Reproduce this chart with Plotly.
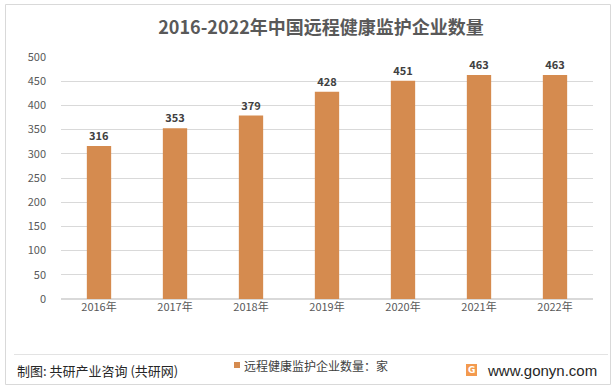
import plotly.graph_objects as go

years = ["2016年", "2017年", "2018年", "2019年", "2020年", "2021年", "2022年"]
values = [316, 353, 379, 428, 451, 463, 463]
y_ticks = [0, 50, 100, 150, 200, 250, 300, 350, 400, 450, 500]
series_name = "远程健康监护企业数量：家"

FONT = "Noto Sans CJK SC"
BAR_COLOR = "#D58B4F"
W, H = 615, 389
L, R, T, B = 61, 22, 57, 90
PW, PH = W - L - R, H - T - B

def px(x):  # pixel x -> paper
    return (x - L) / PW

def py(y):  # pixel y (from top) -> paper
    return (H - B - y) / PH

fig = go.Figure()
fig.add_trace(go.Bar(
    x=years, y=values, name=series_name,
    marker=dict(color=BAR_COLOR, line=dict(width=0)),
    width=0.32,
    text=["<b>%d</b>" % v for v in values], textposition="outside",
    textfont=dict(family=FONT, size=11, color="#404040"),
    cliponaxis=False, showlegend=False,
))

fig.update_layout(
    width=W, height=H,
    margin=dict(l=L, r=R, t=T, b=B, autoexpand=False),
    paper_bgcolor="white", plot_bgcolor="white",
    font=dict(family=FONT, color="#595959"),
    title=dict(text="<b>2016-2022年中国远程健康监护企业数量</b>", x=321 / W, xanchor="center",
               xref="container", y=1 - 28 / H, yanchor="middle",
               font=dict(family=FONT, size=18, color="#595959")),
    xaxis=dict(showgrid=False, showline=False, ticks="",
               tickfont=dict(family=FONT, size=11, color="#595959")),
    yaxis=dict(range=[0, 500], tickvals=y_ticks, showgrid=True, gridcolor="#D9D9D9",
               gridwidth=1, zeroline=True, zerolinecolor="#D9D9D9", showline=False,
               ticks="", ticklabelstandoff=14,
               tickfont=dict(family=FONT, size=11, color="#595959")),
    showlegend=False,
    bargap=0.68,
)

# outer border
fig.add_shape(type="rect", xref="paper", yref="paper",
              x0=px(5.5), x1=px(610.5), y0=py(384.5), y1=py(4.5),
              line=dict(color="#D9D9D9", width=1))
# separator line
fig.add_shape(type="line", xref="paper", yref="paper",
              x0=px(14), x1=px(608), y0=py(354.5), y1=py(354.5),
              line=dict(color="#E3E3E3", width=1))

# legend (marker + label)
fig.add_shape(type="rect", xref="paper", yref="paper",
              x0=px(234), x1=px(240), y0=py(368), y1=py(362),
              fillcolor=BAR_COLOR, line=dict(width=0))
fig.add_annotation(text=series_name, xref="paper", yref="paper",
                   x=px(242), y=py(365),
                   xanchor="left", yanchor="middle", showarrow=False,
                   font=dict(family=FONT, size=12, color="#404040"))

fig.add_annotation(text="制图: 共研产业咨询 (共研网)", xref="paper", yref="paper",
                   x=px(15), y=py(370),
                   xanchor="left", yanchor="middle", showarrow=False,
                   font=dict(family=FONT, size=13, color="#262626"))
fig.add_annotation(text="www.gonyn.com", xref="paper", yref="paper",
                   x=px(599), y=py(370),
                   xanchor="right", yanchor="middle", showarrow=False,
                   font=dict(family="Liberation Sans", size=15, color="#262626"))
# logo
fig.add_shape(type="rect", xref="paper", yref="paper",
              x0=px(466), x1=px(477), y0=py(376), y1=py(364),
              fillcolor="#F39A4E", line=dict(width=0))
fig.add_annotation(text="<b>G</b>", xref="paper", yref="paper",
                   x=px(471.5), y=py(370), xanchor="center", yanchor="middle",
                   showarrow=False, font=dict(family="DejaVu Sans", size=9, color="white"))

fig.write_html("out.html", post_script="document.body.style.margin='0';",
               config={"displayModeBar": False})
